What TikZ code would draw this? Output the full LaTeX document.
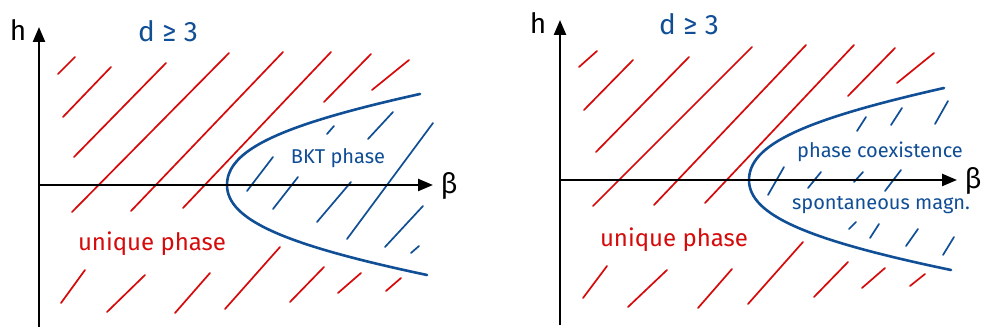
\documentclass[tikz,border=0pt]{standalone}
\usepackage{fontspec}
\setmainfont{Fira Sans}
\usetikzlibrary{arrows.meta}
\definecolor{hred}{RGB}{214,10,10}
\definecolor{hblue}{RGB}{16,78,150}
\tikzset{
  axis/.style={line width=2.4pt,-{Triangle[length=15pt,width=12pt]}},
  rh/.style={hred,line width=1.7pt,line cap=round},
  bh/.style={hblue,line width=1.7pt,line cap=round},
  bcurve/.style={hblue,line width=2.6pt,line cap=round},
  lab/.style={inner sep=0pt},
  redlab/.style={lab,text=hred,font=\fontsize{24}{24}\selectfont},
  bluelab/.style={lab,text=hblue,font=\fontsize{20}{20}\selectfont},
  dlab/.style={lab,text=hblue,font=\fontsize{28}{28}\selectfont},
  axlab/.style={lab,font=\fontsize{28}{28}\selectfont},
}
\begin{document}
\begin{tikzpicture}[x=1pt,y=-1pt]
\useasboundingbox (0,0) rectangle (982,328);
\fill[white] (0,0) rectangle (982,328);
% ---------------- left panel ----------------
\coordinate (Lbot) at (39,327);
\coordinate (Ltop) at (39,27);
\coordinate (Lleft) at (39,185);
\coordinate (Lright) at (433,185);
\coordinate (Lv) at (227,185);
\coordinate (Lt) at (420,94);
\coordinate (Lb2) at (427,275);
% red hatches
\draw[rh] (58,74)--(75,57);
\draw[rh] (63,117)--(111,67);
\draw[rh] (74,157)--(166,63);
\draw[rh] (72,212)--(229,53);
\draw[rh] (131,211)--(283,52);
\draw[rh] (183,208)--(331,52);
\draw[rh] (324,102)--(371,54);
\draw[rh] (372,90)--(409,60);
\draw[rh] (61,303)--(85,270);
\draw[rh] (107,312)--(145,275);
\draw[rh] (175,313)--(210,273);
\draw[rh] (225,309)--(280,247);
\draw[rh] (290,302)--(324,267);
\draw[rh] (338,293)--(361,273);
\draw[rh] (386,291)--(401,278);
% blue hatches
\draw[bh] (327,134)--(334,126);
\draw[bh] (368,139)--(393,112);
\draw[bh] (347,239)--(433,123);
\draw[bh] (247,191)--(273,157);
\draw[bh] (273,209)--(298,177);
\draw[bh] (317,222)--(351,182);
\draw[bh] (385,247)--(423,206);
\draw[bh] (411,253)--(419,246);
% curve
\draw[bcurve] (Lt) .. controls (280,125) and (227,150) .. (Lv)
                   .. controls (227,220) and (285,245) .. (Lb2);
% axes
\draw[axis] (Lbot) -- (Ltop);
\draw[axis] (Lleft) -- (Lright);
\node[axlab] (Lh) at (18,30) {h};
\node[axlab] (Lb) at (449,186) {β};
\node[dlab] (Ld) at (168,31) {d ≥ 3};
\node[redlab] (Lu) at (152,244) {unique phase};
\node[bluelab] (Lbkt) at (338,158) {BKT phase};
% ---------------- right panel ----------------
\coordinate (Rbot) at (560,325);
\coordinate (Rtop) at (560,20);
\coordinate (Rleft) at (560,180);
\coordinate (Rright) at (957,180);
\coordinate (Rv) at (749,180);
\coordinate (Rt) at (944,88);
\coordinate (Rb2) at (951,270);
% red hatches
\draw[rh] (579,67)--(597,51);
\draw[rh] (584,110)--(633,60);
\draw[rh] (596,152)--(689,57);
\draw[rh] (593,206)--(752,47);
\draw[rh] (654,205)--(806,45);
\draw[rh] (705,203)--(854,45);
\draw[rh] (848,96)--(895,48);
\draw[rh] (897,83)--(934,53);
\draw[rh] (583,298)--(607,266);
\draw[rh] (628,307)--(667,270);
\draw[rh] (698,308)--(732,269);
\draw[rh] (748,304)--(803,242);
\draw[rh] (814,297)--(848,262);
\draw[rh] (862,288)--(885,268);
\draw[rh] (910,286)--(925,274);
% blue hatches
\draw[bh] (857,131)--(866,117);
\draw[bh] (891,125)--(902,108);
\draw[bh] (935,124)--(948,101);
\draw[bh] (768,195)--(784,167);
\draw[bh] (808,188)--(821,172);
\draw[bh] (854,182)--(863,172);
\draw[bh] (885,191)--(901,170);
\draw[bh] (849,229)--(856,222);
\draw[bh] (870,238)--(879,224);
\draw[bh] (906,246)--(918,229);
\draw[bh] (943,255)--(954,237);
% curve
\draw[bcurve] (Rt) .. controls (802,120) and (749,145) .. (Rv)
                   .. controls (749,215) and (807,240) .. (Rb2);
% axes
\draw[axis] (Rbot) -- (Rtop);
\draw[axis] (Rleft) -- (Rright);
\node[axlab] (Rh) at (538,23) {h};
\node[axlab] (Rb) at (973,181) {β};
\node[dlab] (Rd) at (689,24) {d ≥ 3};
\node[redlab] (Ru) at (674,240) {unique phase};
\node[bluelab] (Rpc) at (880,152) {phase coexistence};
\node[bluelab] (Rsm) at (881,205) {spontaneous magn.};
\end{tikzpicture}
\end{document}
